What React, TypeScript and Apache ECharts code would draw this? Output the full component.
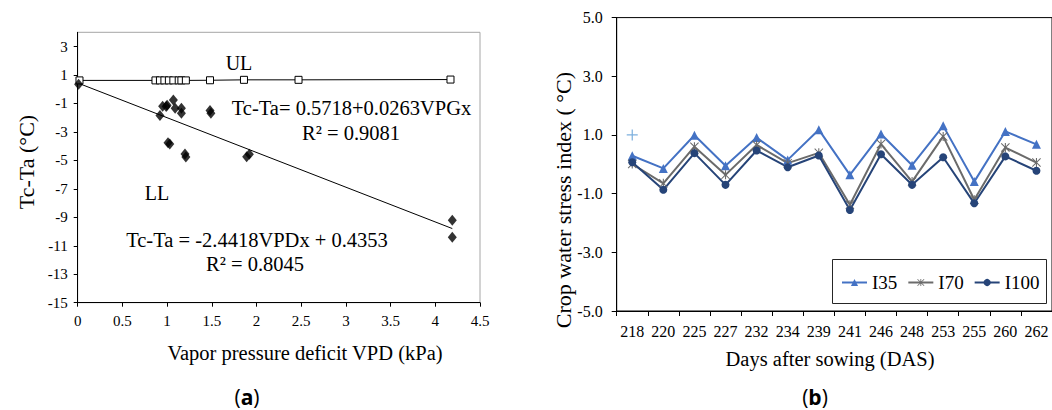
import React, { useEffect, useRef } from 'react';
import * as echarts from 'echarts';

// ---------- Panel (a) data ----------
const vpdUL = [0.02, 0.87, 0.92, 0.97, 1.02, 1.07, 1.13, 1.16, 1.21, 1.48, 1.86, 2.47, 4.17];
const tdUL = [0.62, 0.62, 0.62, 0.62, 0.62, 0.62, 0.62, 0.62, 0.62, 0.63, 0.66, 0.66, 0.68];

const vpdLL = [0.01, 0.92, 0.95, 0.99, 1.0, 1.07, 1.09, 1.16, 1.16, 1.48, 1.49, 1.01, 1.03, 1.2, 1.21, 1.89, 1.92, 4.19, 4.19];
const tdLL = [0.35, -1.84, -1.2, -1.22, -1.12, -0.76, -1.34, -1.68, -1.34, -1.5, -1.69, -3.76, -3.85, -4.56, -4.76, -4.74, -4.57, -9.2, -10.4];

const llTrendX = [0, 4.19];
const llTrendY = [0.44, -9.79];

const yTicksA = [-15, -13, -11, -9, -7, -5, -3, -1, 1, 3];

// ---------- Panel (b) data ----------
const days = ['218', '220', '225', '227', '232', '234', '239', '241', '246', '248', '253', '255', '260', '262'];
const i35 = [0.29, -0.14, 0.99, -0.05, 0.91, 0.15, 1.18, -0.36, 1.03, -0.03, 1.31, -0.59, 1.12, 0.68];
const i70 = [0.01, -0.65, 0.6, -0.36, 0.66, 0.04, 0.39, -1.38, 0.69, -0.59, 0.95, -1.21, 0.57, 0.06];
const i100 = [0.07, -0.87, 0.38, -0.7, 0.47, -0.1, 0.3, -1.56, 0.34, -0.7, 0.24, -1.33, 0.27, -0.22];
const plusDay = ['218'];
const plusVal = [1.0];

const serif = 'Liberation Serif';
const sans = 'Open Sans';

const asteriskPath =
  'path://M0.8,0L5,4.2L9.2,0L10,0.8L5.8,5L10,9.2L9.2,10L5,5.8L0.8,10L0,9.2L4.2,5L0,0.8Z M4.4,0H5.6V10H4.4Z';
const plusPath = 'path://M4.45,0H5.55V4.45H10V5.55H5.55V10H4.45V5.55H0V4.45H4.45Z';

export default function App() {
  const ref = useRef<HTMLDivElement>(null);

  useEffect(() => {
    const chart = echarts.init(ref.current as HTMLDivElement, null, { renderer: 'svg' });

    const txt = (x: number, y: number, text: string, size: number, extra: any = {}) => ({
      type: 'text',
      x,
      y,
      z: 10,
      ...extra,
      style: {
        text,
        fill: '#000',
        fontFamily: serif,
        fontSize: size,
        align: 'center',
        verticalAlign: 'middle',
      },
    });

    const panelLabel = (x: number, y: number, letter: string) => ({
      type: 'text',
      x,
      y,
      z: 10,
      style: {
        text: `{p|(}{b|${letter}}{p|)}`,
        align: 'center',
        verticalAlign: 'middle',
        rich: {
          p: { fontFamily: sans, fontSize: 21, fill: '#000' },
          b: { fontFamily: sans, fontSize: 21, fontWeight: 'bold', fill: '#000' },
        },
      },
    });

    const option: any = {
      animation: false,
      backgroundColor: '#fff',
      textStyle: { fontFamily: serif },
      grid: [
        {
          left: 77.7,
          top: 32.3,
          width: 402.3,
          height: 270.4,
          show: true,
          borderColor: '#A6A6A6',
          borderWidth: 1,
        },
        {
          left: 616.7,
          top: 17.6,
          width: 440,
          height: 293.4,
          show: true,
          borderColor: '#000',
          borderWidth: 1,
        },
      ],
      xAxis: [
        {
          gridIndex: 0,
          type: 'value',
          min: 0,
          max: 4.5,
          interval: 0.5,
          axisLine: { show: true, onZero: false, lineStyle: { color: '#000', width: 1 } },
          axisTick: { show: true, length: 4, lineStyle: { color: '#000' } },
          axisLabel: { color: '#000', fontFamily: serif, fontSize: 15, margin: 11 },
          splitLine: { show: false },
        },
        {
          gridIndex: 1,
          type: 'category',
          data: days,
          boundaryGap: true,
          axisLine: { show: true, onZero: false, lineStyle: { color: '#000', width: 1 } },
          axisTick: { show: true, length: 5, alignWithLabel: false, lineStyle: { color: '#000' } },
          axisLabel: { color: '#000', fontFamily: serif, fontSize: 16, margin: 12, interval: 0 },
          splitLine: { show: false },
        },
      ],
      yAxis: [
        {
          gridIndex: 0,
          type: 'value',
          min: -15,
          max: 4,
          interval: 2,
          axisLine: { show: true, onZero: false, lineStyle: { color: '#000', width: 1 } },
          axisTick: { show: true, length: 4, lineStyle: { color: '#000' }, customValues: yTicksA },
          axisLabel: {
            color: '#000',
            fontFamily: serif,
            fontSize: 15,
            margin: 10,
            customValues: yTicksA,
            formatter: (v: number) => (v > 3.5 ? '' : String(v)),
          },
          splitLine: { show: false },
        },
        {
          gridIndex: 1,
          type: 'value',
          min: -5,
          max: 5,
          interval: 2,
          axisLine: { show: true, onZero: false, lineStyle: { color: '#000', width: 1 } },
          axisTick: { show: true, length: 5, lineStyle: { color: '#000' } },
          axisLabel: {
            color: '#000',
            fontFamily: serif,
            fontSize: 16,
            margin: 14,
            formatter: (v: number) => v.toFixed(1),
          },
          splitLine: { show: false },
        },
      ],
      legend: {
        data: ['I35', 'I70', 'I100'],
        left: 841,
        top: 273,
        padding: 0,
        itemWidth: 25,
        itemHeight: 9,
        itemGap: 10,
        textStyle: { fontFamily: serif, fontSize: 19, color: '#000' },
      },
      series: [
        {
          name: 'UL',
          type: 'line',
          xAxisIndex: 0,
          yAxisIndex: 0,
          data: vpdUL.map((x, i) => [x, tdUL[i]]),
          symbol: 'rect',
          symbolSize: 7,
          itemStyle: { color: '#fff', borderColor: '#000', borderWidth: 1 },
          lineStyle: { color: '#000', width: 1 },
          z: 3,
        },
        {
          name: 'LLtrend',
          type: 'line',
          xAxisIndex: 0,
          yAxisIndex: 0,
          data: llTrendX.map((x, i) => [x, llTrendY[i]]),
          symbol: 'none',
          lineStyle: { color: '#000', width: 1 },
          z: 2,
        },
        {
          name: 'LL',
          type: 'scatter',
          xAxisIndex: 0,
          yAxisIndex: 0,
          data: vpdLL.map((x, i) => [x, tdLL[i]]),
          symbol: 'diamond',
          symbolSize: [9, 11],
          itemStyle: { color: '#000' },
          z: 4,
        },
        {
          name: 'I35',
          type: 'line',
          xAxisIndex: 1,
          yAxisIndex: 1,
          data: i35,
          symbol: 'triangle',
          symbolSize: 9,
          itemStyle: { color: '#4472C4' },
          lineStyle: { color: '#4472C4', width: 2 },
        },
        {
          name: 'I70',
          type: 'line',
          xAxisIndex: 1,
          yAxisIndex: 1,
          data: i70,
          symbol: asteriskPath,
          symbolSize: 9,
          itemStyle: { color: '#6B6B6B' },
          lineStyle: { color: '#6B6B6B', width: 2 },
        },
        {
          name: 'I100',
          type: 'line',
          xAxisIndex: 1,
          yAxisIndex: 1,
          data: i100,
          symbol: 'circle',
          symbolSize: 8,
          itemStyle: { color: '#264478' },
          lineStyle: { color: '#264478', width: 2 },
        },
        {
          name: 'plus',
          type: 'scatter',
          xAxisIndex: 1,
          yAxisIndex: 1,
          data: plusDay.map((d, i) => [d, plusVal[i]]),
          symbol: plusPath,
          symbolSize: 11,
          itemStyle: { color: '#5B9BD5' },
        },
      ],
      graphic: [
        // panel (a) annotations
        txt(239, 63, 'UL', 20),
        txt(157, 193, 'LL', 20),
        txt(351.5, 108, 'Tc-Ta= 0.5718+0.0263VPGx', 20.5),
        txt(351, 133, 'R² = 0.9081', 20.5),
        txt(257, 239.5, 'Tc-Ta = -2.4418VPDx + 0.4353', 20.5),
        txt(255, 263.5, 'R² = 0.8045', 20.5),
        // axis titles
        txt(305, 353, 'Vapor pressure deficit VPD (kPa)', 20.5),
        txt(26, 162, 'Tc-Ta (°C)', 22, { rotation: Math.PI / 2 }),
        txt(830, 359, 'Days after sowing (DAS)', 20.5),
        txt(563, 200, 'Crop water stress index ( °C)', 22, { rotation: Math.PI / 2 }),
        // panel labels
        panelLabel(247, 397, 'a'),
        panelLabel(815, 397, 'b'),
        // legend box
        {
          type: 'rect',
          z: 1,
          shape: { x: 832.5, y: 259.5, width: 214, height: 44 },
          style: { fill: '#fff', stroke: '#262626', lineWidth: 1 },
        },
      ],
    };

    chart.setOption(option);
    return () => chart.dispose();
  }, []);

  return (
    <div
      ref={ref}
      style={{ position: 'fixed', left: 0, top: 0, width: 1052, height: 410, background: '#fff' }}
    />
  );
}
